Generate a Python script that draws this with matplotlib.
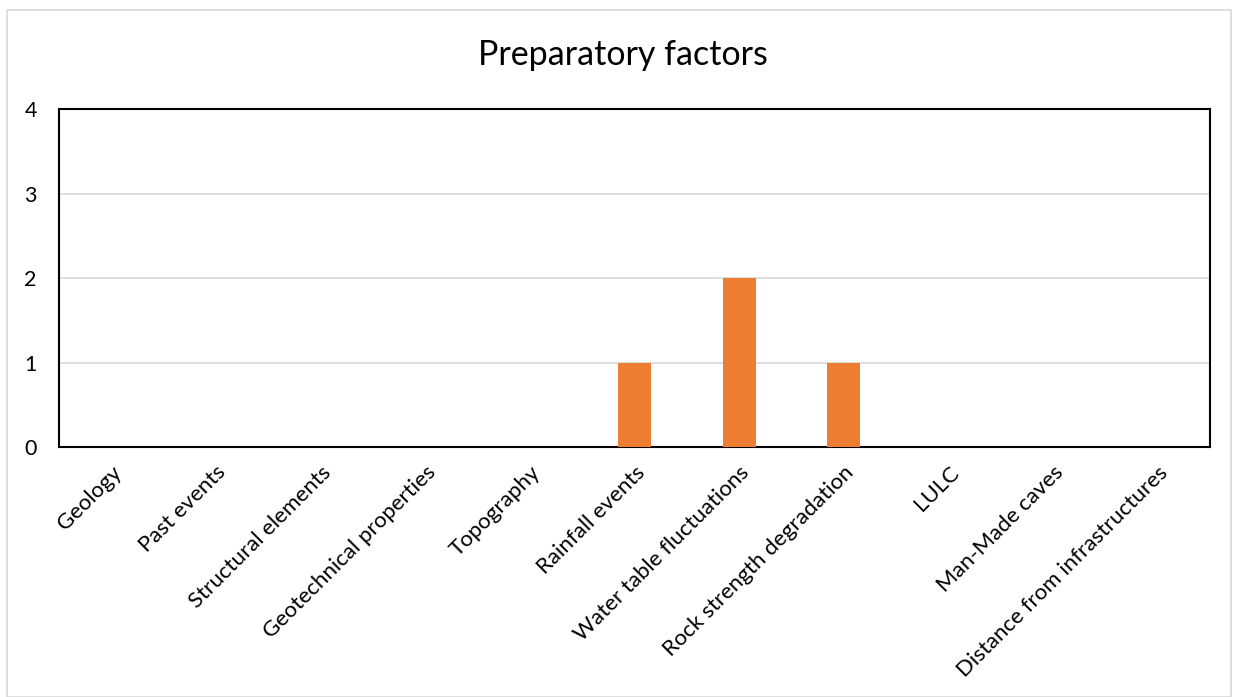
import matplotlib
matplotlib.use("Agg")
import matplotlib.pyplot as plt
from matplotlib.patches import Rectangle

categories = ["Geology", "Past events", "Structural elements", "Geotechnical properties",
              "Topography", "Rainfall events", "Water table fluctuations",
              "Rock strength degradation", "LULC", "Man-Made caves",
              "Distance from infrastructures"]
values = [0, 0, 0, 0, 0, 1, 2, 1, 0, 0, 0]
yticks = [0, 1, 2, 3, 4]
title = "Preparatory factors"

plt.rcParams['font.family'] = ['Lato', 'DejaVu Sans']

W, H = 1238, 697
fig = plt.figure(figsize=(W/100, H/100), dpi=100)
fig.patches.append(Rectangle((7/W, 0), (1231-7)/W, (697-10)/H, transform=fig.transFigure,
                             fill=False, edgecolor='#d9d9d9', linewidth=1.2))
ax = fig.add_axes([59/W, 1-447/H, (1210-59)/W, (447-109)/H])
x = list(range(len(categories)))
ax.bar(x, values, width=0.315, color='#ED7D31', zorder=3)
ax.set_xlim(-0.5, len(categories)-0.5)
ax.set_ylim(0, 4)
ax.set_yticks(yticks)
ax.set_yticklabels([str(v) for v in yticks], fontsize=15.5)
ax.yaxis.grid(True, color='#d9d9d9', linewidth=1.2, zorder=0)
ax.tick_params(axis='y', length=0, pad=16)
ax.tick_params(axis='x', length=0, pad=11)
ax.set_xticks(x)
ax.set_xticklabels(categories, rotation=45, ha='right', rotation_mode='anchor', fontsize=16)
for s in ax.spines.values():
    s.set_color('black')
    s.set_linewidth(1.5)
fig.text(623/W, 1-55/H, title, ha='center', va='center', fontsize=24.5)
fig.savefig("out.png", dpi=100)
